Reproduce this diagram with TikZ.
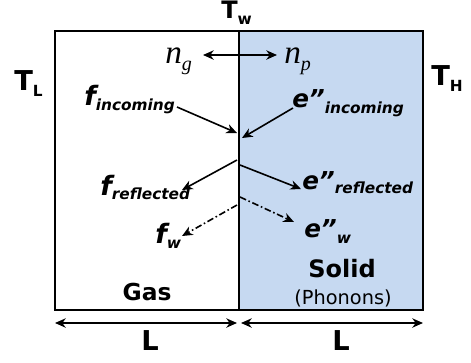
\documentclass[tikz,border=0pt]{standalone}
\usepackage{fontspec}
\setmainfont{DejaVu Sans}
\newfontfamily\nfont{Liberation Serif}
\usetikzlibrary{arrows.meta}
\definecolor{solidblue}{HTML}{C6D9F1}
\newcommand{\mainsub}[4]{{\fontsize{#1}{#1}\selectfont #3}\raisebox{#2}{\fontsize{11.5}{11.5}\selectfont #4}}
\newcommand{\nsym}[1]{{\nfont\itshape\fontsize{25}{25}\selectfont n\raisebox{-5.5pt}{\fontsize{15}{15}\selectfont #1}}}
\begin{document}
\begin{tikzpicture}[x=0.75pt,y=-0.75pt,
  tip/.tip={Stealth[length=8pt,width=7pt,inset=2.5pt]},
  lbl/.style={inner sep=0pt,anchor=base west,font=\bfseries},
  ilbl/.style={inner sep=0pt,anchor=base west,font=\bfseries\itshape},
  ctr/.style={inner sep=0pt,anchor=base,font=\bfseries},
  wall/.style={line width=2pt},
  arr/.style={line width=1.2pt,-tip},
  darr/.style={line width=1.2pt,-tip,dash pattern=on 5pt off 2pt on 1.2pt off 2pt},
  dim/.style={line width=1.2pt,tip-tip}]
\useasboundingbox (0,0) rectangle (471,362);
% regions
\fill[solidblue] (239,31) rectangle (423,310);
\draw[wall] (55,31) rectangle (423,310);
\draw[wall] (239,31) -- (239,310);
% temperatures
\node[lbl] (Tw) at (221,18) {\mainsub{18}{-5pt}{T}{w}};
\node[lbl] (TL) at (14,90) {\mainsub{20.5}{-5pt}{T}{L}};
\node[lbl] (TH) at (431,85) {\mainsub{20.5}{-5pt}{T}{H}};
% n_g <-> n_p
\node[inner sep=0pt,anchor=base west] (ng) at (165,63) {\nsym{g}};
\node[inner sep=0pt,anchor=base west] (np) at (284,63) {\nsym{p}};
\coordinate (nL) at (203,55);
\coordinate (nR) at (277,55);
\draw[line width=1.2pt,tip-tip] (nL) -- (nR);
% labels
\node[ilbl] (fin) at (84,105) {\mainsub{20}{-3.8pt}{f}{incoming}};
\node[ilbl] (ein) at (292,107) {\mainsub{18.5}{-4.5pt}{e”}{incoming}};
\node[ilbl] (fre) at (100,195) {\mainsub{20}{-3pt}{f}{reflected}};
\node[ilbl] (ere) at (302,189) {\mainsub{18.5}{-3.5pt}{e”}{reflected}};
\node[ilbl] (fw) at (155,243) {\mainsub{20}{-4pt}{f}{w}};
\node[ilbl] (ew) at (304,237) {\mainsub{18.5}{-4.5pt}{e”}{w}};
% arrow endpoints
\coordinate (finS) at (177,107);
\coordinate (finE) at (237,133);
\coordinate (einS) at (293,108);
\coordinate (einE) at (242,138);
\coordinate (freS) at (237,160);
\coordinate (freE) at (182,190);
\coordinate (ereS) at (240,165);
\coordinate (ereE) at (301,189);
\coordinate (fwS) at (237,205);
\coordinate (fwE) at (182,236);
\coordinate (ewS) at (240,197);
\coordinate (ewE) at (294,222);
\draw[arr] (finS) -- (finE);
\draw[arr] (einS) -- (einE);
\draw[arr] (freS) -- (freE);
\draw[arr] (ereS) -- (ereE);
\draw[darr] (fwS) -- (fwE);
\draw[darr] (ewS) -- (ewE);
% region names
\node[ctr] (gas) at (147,300) {\fontsize{17.5}{17.5}\selectfont Gas};
\node[ctr] (solid) at (342,277) {\fontsize{18}{18}\selectfont Solid};
\node[inner sep=0pt,anchor=base] (phon) at (343,304) {\fontsize{14.5}{14.5}\selectfont (Phonons)};
% dimensions
\coordinate (d1) at (55,323);
\coordinate (d2) at (237,323);
\coordinate (d3) at (241,323);
\coordinate (d4) at (423,323);
\draw[dim] (d1) -- (d2);
\draw[dim] (d3) -- (d4);
\node[ctr] (L1) at (150,350) {\fontsize{20.5}{20.5}\selectfont L};
\node[ctr] (L2) at (341,350) {\fontsize{20.5}{20.5}\selectfont L};
\end{tikzpicture}
\end{document}
